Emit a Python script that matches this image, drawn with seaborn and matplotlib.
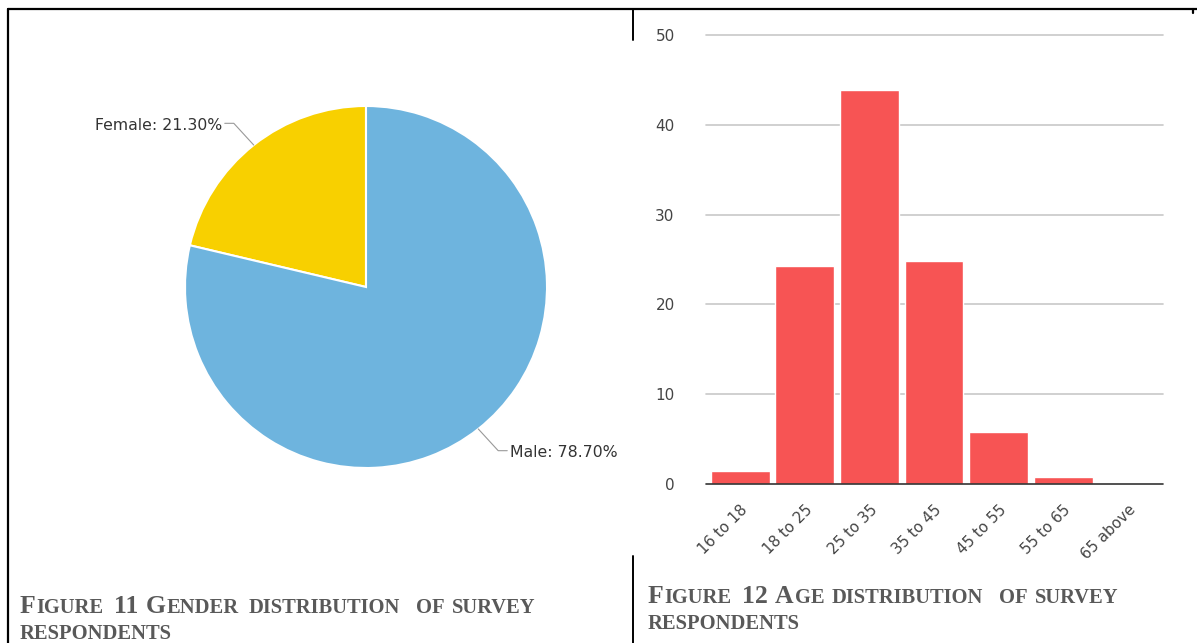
import re
import numpy as np
import pandas as pd
import matplotlib
matplotlib.use('Agg')
import matplotlib.pyplot as plt
import seaborn as sns

# data
genders = ['Female', 'Male']
gender_pct = [21.30, 78.70]
gender_colors = ['#F8D000', '#6EB4DE']

age_groups = ['16 to 18', '18 to 25', '25 to 35', '35 to 45', '45 to 55', '55 to 65', '65 above']
age_counts = [1.4, 24.3, 43.9, 24.8, 5.8, 0.8, 0.0]
y_ticks = [0, 10, 20, 30, 40, 50]

W, H = 1197, 643
sns.set_theme(style='white')
plt.rcParams['font.family'] = ['DejaVu Sans']

fig = plt.figure(figsize=(W / 100, H / 100), dpi=100)


def px_axes(x0, y0, x1, y1):
    # pixel box (top-left origin) -> figure axes
    return fig.add_axes([x0 / W, 1 - y1 / H, (x1 - x0) / W, (y1 - y0) / H])


# ---- pie chart ----
ax_pie = px_axes(185, 106, 547, 468)
wedges, _ = ax_pie.pie(gender_pct, colors=gender_colors, startangle=90,
                       counterclock=True,
                       wedgeprops=dict(edgecolor='white', linewidth=1.5))
ax_pie.set_xlim(-1, 1)
ax_pie.set_ylim(-1, 1)
ax_pie.set_aspect('equal')
ax_pie.axis('off')

for w, name, pct in zip(wedges, genders, gender_pct):
    ang = np.deg2rad((w.theta1 + w.theta2) / 2)
    x, y = np.cos(ang), np.sin(ang)
    sx = 1 if x > 0 else -1
    sy = 1 if y > 0 else -1
    ex, ey = x + sx * 0.11, y + sy * 0.12
    ax_pie.plot([x, ex, ex + sx * 0.05], [y, ey, ey], color='#999999', lw=0.8,
                clip_on=False)
    ax_pie.text(ex + sx * 0.065, ey - 0.01, f'{name}: {pct:.2f}%', fontsize=11.3,
                color='#333333', ha='left' if sx > 0 else 'right', va='center')

# ---- bar chart ----
ax_bar = px_axes(708, 35, 1160, 484)
df = pd.DataFrame({'age': age_groups, 'count': age_counts})
sns.barplot(data=df, x='age', y='count', color='#F75454', saturation=1,
            width=0.91, ax=ax_bar, zorder=3)
ax_bar.set_ylim(0, 50)
ax_bar.set_yticks(y_ticks)
ax_bar.set_xlim(-0.5, len(age_groups) - 0.5)
ax_bar.set_xlabel('')
ax_bar.set_ylabel('')
for v in y_ticks[1:]:
    ax_bar.plot([-0.53, 6.55], [v, v], color='#C8C8C8', lw=1.2, zorder=1, clip_on=False)
ax_bar.plot([-0.53, 6.55], [0, 0], color='#333333', lw=1.2, zorder=4, clip_on=False)
for s in ax_bar.spines.values():
    s.set_visible(False)
ax_bar.tick_params(axis='y', length=0, pad=24, labelsize=11, labelcolor='#444444')
ax_bar.tick_params(axis='x', length=0, pad=13, labelsize=10.8, labelcolor='#444444')
plt.setp(ax_bar.get_xticklabels(), rotation=45, ha='right', rotation_mode='anchor')

# ---- frame lines ----
ax_frame = fig.add_axes([0, 0, 1, 1], zorder=-1)
ax_frame.set_xlim(0, W)
ax_frame.set_ylim(H, 0)
ax_frame.axis('off')
ax_frame.plot([8, W], [9, 9], color='black', lw=1.6)
ax_frame.plot([8, 8], [9, H], color='black', lw=1.6)
ax_frame.plot([633, 633], [9, 40], color='black', lw=1.4)
ax_frame.plot([633, 633], [556, H], color='black', lw=1.4)
ax_frame.plot([1193, 1193], [9, 13], color='black', lw=1.6)

# ---- captions in small caps ----
renderer = fig.canvas.get_renderer()


def small_caps(x, y, s, big=18.5, small=14.8, color='#595959'):
    for word in s.split(' '):
        for run in re.findall(r'[a-z]+|[^a-z]+', word):
            size = small if run.islower() else big
            t = fig.text(x / W, 1 - y / H, run.upper(), fontsize=size, color=color,
                         family=['Liberation Serif'], weight='bold', va='baseline')
            x += t.get_window_extent(renderer).width + 0.8 * len(run)
        x += 6


small_caps(20, 613, 'Figure 11 Gender distribution of survey')
small_caps(20, 639, 'respondents')
small_caps(648, 603, 'Figure 12 Age distribution of survey')
small_caps(648, 629, 'respondents')

fig.savefig('out.png', dpi=100)
